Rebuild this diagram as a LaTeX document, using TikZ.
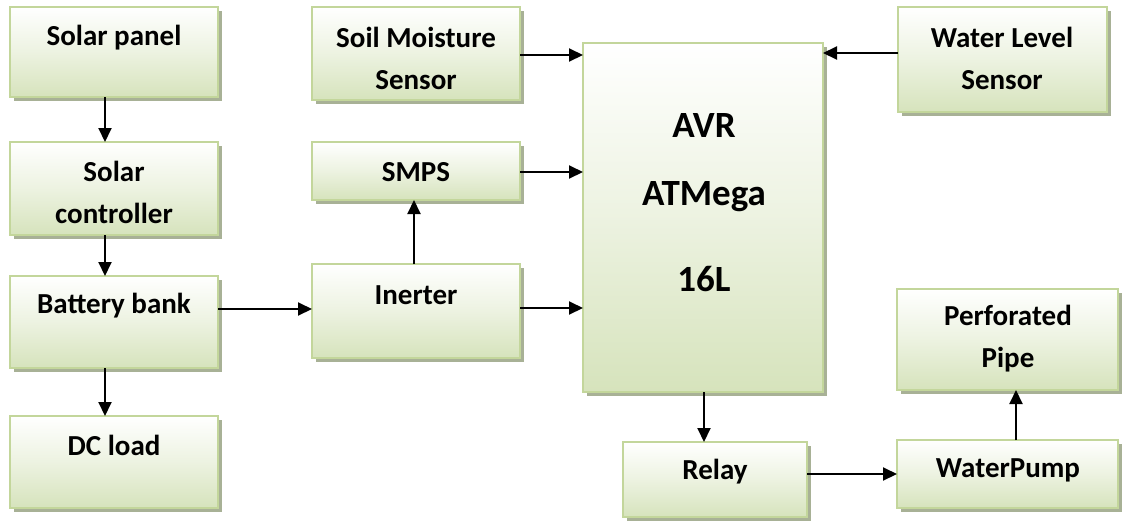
\documentclass[tikz,border=0pt]{standalone}
\usepackage{fontspec}
\setmainfont{Carlito}
\usetikzlibrary{arrows.meta,shadows}
\definecolor{boxgreen}{HTML}{D6E3BC}
\definecolor{boxborder}{HTML}{C3D69B}
\definecolor{shadowc}{HTML}{A8B196}
\tikzset{
  blk/.style={draw=boxborder, line width=2pt, top color=white, bottom color=boxgreen,
    middle color=white!55!boxgreen, shading angle=0, outer sep=0pt, inner sep=0pt,
    drop shadow={shadow xshift=4pt, shadow yshift=-4pt, fill=shadowc, opacity=1}},
  txt/.style={font=\bfseries\fontsize{29}{42}\selectfont, align=center, inner sep=0pt},
  bigtxt/.style={font=\bfseries\fontsize{37}{44}\selectfont, inner sep=0pt},
  arr/.style={line width=2pt, -{Triangle[length=14pt,width=13pt]}},
}
\newcommand{\blkat}[5]{%
  \pgfmathsetmacro{\bw}{#4-#2}\pgfmathsetmacro{\bh}{#5-#3}%
  \node[blk, minimum width=\bw pt, minimum height=\bh pt] (#1) at ({(#2+#4)/2},{(#3+#5)/2}) {};}
\begin{document}
\begin{tikzpicture}[x=1pt,y=-1pt]
\useasboundingbox (0,0) rectangle (1125,520);
\blkat{sp}{10}{7}{218}{97}
\blkat{sc}{10}{142}{218}{235}
\blkat{bb}{10}{276}{218}{368}
\blkat{dc}{10}{416}{218}{508}
\blkat{sm}{312}{7}{520}{100}
\blkat{smps}{312}{142}{520}{200}
\blkat{inv}{312}{264}{520}{358}
\blkat{avr}{583}{43}{823}{392}
\blkat{wl}{898}{7}{1107}{112}
\blkat{pp}{897}{289}{1118}{390}
\blkat{wp}{897}{440}{1118}{508}
\blkat{rl}{623}{442}{807}{517}

\node[txt] (sp-t) at (114,38) {Solar panel};
\node[txt] (sc-t) at (114,192) {Solar\\controller};
\node[txt] (bb-t) at (114,306) {Battery bank};
\node[txt] (dc-t) at (114,445) {DC load};
\node[txt] (sm-t) at (416,58) {Soil Moisture\\Sensor};
\node[txt] (smps-t) at (416,172) {SMPS};
\node[txt] (inv-t) at (416,295) {Inerter};
\node[bigtxt] (avr-t1) at (704,125) {AVR};
\node[bigtxt] (avr-t2) at (704,197) {ATMega};
\node[bigtxt] (avr-t3) at (704,279) {16L};
\node[txt] (wl-t) at (1002,58) {Water Level\\Sensor};
\node[txt] (pp-t) at (1008,339) {Perforated\\Pipe};
\node[txt] (wp-t) at (1008,470) {WaterPump};
\node[txt] (rl-t) at (715,472) {Relay};

\draw[arr] ([xshift=-9pt]sp.south) -- ([xshift=-9pt]sp.south |- sc.north);
\draw[arr] ([xshift=-9pt]sc.south) -- ([xshift=-9pt]sc.south |- bb.north);
\draw[arr] ([xshift=-9pt]bb.south) -- ([xshift=-9pt]bb.south |- dc.north);
\draw[arr] ([yshift=13pt]bb.east) -- ([yshift=13pt]bb.east -| inv.west);
\draw[arr] ([yshift=-1.5pt]sm.east) -- ([yshift=-1.5pt]sm.east -| avr.west);
\draw[arr] ([yshift=-1pt]smps.east) -- ([yshift=-1pt]smps.east -| avr.west);
\draw[arr] ([yshift=3pt]inv.east) -- ([yshift=3pt]inv.east -| avr.west);
\draw[arr] ([xshift=-2pt]inv.north) -- ([xshift=-2pt]inv.north |- smps.south);
\draw[arr] ([yshift=6.5pt]wl.west) -- ([yshift=6.5pt]wl.west -| avr.east);
\draw[arr] ([xshift=1pt]avr.south) -- ([xshift=1pt]avr.south |- rl.north);
\draw[arr] ([yshift=5.5pt]rl.east) -- ([yshift=5.5pt]rl.east -| wp.west);
\draw[arr] ([xshift=8.5pt]wp.north) -- ([xshift=8.5pt]wp.north |- pp.south);
\end{tikzpicture}
\end{document}
